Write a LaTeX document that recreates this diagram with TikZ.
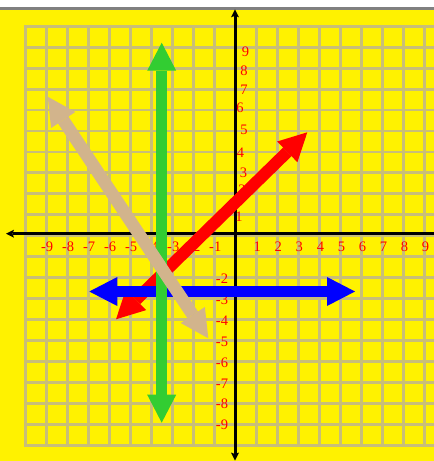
\documentclass[tikz,border=0pt]{standalone}
\usepackage{fontspec}
\setmainfont{Liberation Serif}
\usetikzlibrary{arrows.meta}
\definecolor{gridc}{RGB}{200,190,120}
\definecolor{tanc}{RGB}{210,180,140}
\definecolor{greenc}{RGB}{50,205,50}
\definecolor{topline}{RGB}{128,128,128}
\begin{document}
\begin{tikzpicture}[x=1pt,y=-1pt,
  lbl/.style={text=red,font=\fontsize{14.5}{16}\selectfont,inner sep=0pt},
  gline/.style={draw=gridc,line width=2.8pt,line cap=rect},
  axisline/.style={line width=3pt,draw=black},
  axtip/.style={>={Stealth[length=8pt,width=8pt,inset=1.5pt,line width=0pt]}},
  blockarrow/.style={line width=#1,>={Triangle[length=28pt,width=29pt,line width=0pt]},<->}
]
\useasboundingbox (0,0) rectangle (434,461);
\clip (0,0) rectangle (434,461);
% background
\fill[yellow] (0,0) rectangle (434,461);
\fill[white] (0,0) rectangle (434,7.5);
\fill[topline] (0,7.3) rectangle (434,9.5);
% grid
\foreach \k in {0,...,20} {
  \draw[gline] ({25.3+21.02*\k},26.3) -- ({25.3+21.02*\k},445.1);
  \draw[gline] (25.3,{26.3+20.94*\k}) -- (446,{26.3+20.94*\k});
}
% axes
\coordinate (xleft) at (6,233.7);
\coordinate (xright) at (434,233.7);
\coordinate (ytop) at (235,9.3);
\coordinate (ybot) at (235,460.5);
\draw[axisline,axtip,->] (xright) -- (xleft);
\draw[axisline,axtip,<->] (ytop) -- (ybot);
% x labels
\foreach \k in {-9,...,-1,1,2,...,9} {
  \node[lbl] (xlab\k) at ({236.3+21.02*\k},247) {\k};
}
% positive y labels
\foreach \k/\px/\py in {9/245.5/51.7,8/244/70.5,7/244/90,6/240/107.7,5/244/130,4/240.5/152.5,3/243.5/173,2/242/190,1/239/216.7} {
  \node[lbl] (ylab\k) at (\px,\py) {\k};
}
% negative y labels
\foreach \k in {2,...,9} {
  \node[lbl] (ylabm\k) at (222,{236.7+20.94*\k}) {-\k};
}
% block arrows
\coordinate (redA) at (116,319.3);
\coordinate (redB) at (307.3,132.3);
\coordinate (blueA) at (89.3,291.5);
\coordinate (blueB) at (355,291.5);
\coordinate (greenA) at (161.7,42.7);
\coordinate (greenB) at (161.7,422.7);
\coordinate (tanA) at (47.7,96.7);
\coordinate (tanB) at (208.3,338.3);
\draw[blockarrow=12pt,draw=red,fill=red] (redA) -- (redB);
\draw[blockarrow=11pt,draw=blue,fill=blue] (blueA) -- (blueB);
\draw[blockarrow=10.5pt,draw=greenc,fill=greenc] (greenA) -- (greenB);
\draw[blockarrow=12.5pt,draw=tanc,fill=tanc] (tanA) -- (tanB);
\end{tikzpicture}
\end{document}
